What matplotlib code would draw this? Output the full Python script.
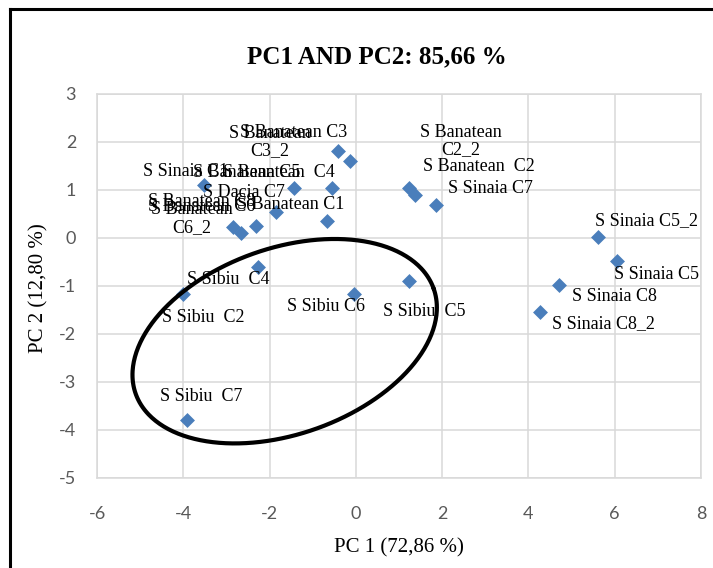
import numpy as np
import matplotlib
matplotlib.use("Agg")
import matplotlib.pyplot as plt
from matplotlib.lines import Line2D

plt.rcParams["axes.unicode_minus"] = False

# PCA scores (PC1, PC2) for each sample
samples = [
    "S Banatean C3", "S Banatean\nC3_2", "S Sinaia C1", "S Banatean C5",
    "S Banatean  C4", "S Dacia C7", "S Banatean C1", "S Banatean C8",
    "S Banatean C6", "S Banatean\nC6_2", "S Banatean\nC2_2", "S Banatean  C2",
    "S Sinaia C7", "S Sinaia C5_2", "S Sinaia C5", "S Sinaia C8",
    "S Sinaia C8_2", "S Sibiu  C4", "S Sibiu  C2", "S Sibiu C6",
    "S Sibiu  C5", "S Sibiu  C7",
]
pc1 = [-0.42, -0.14, -3.52, -1.44, -0.56, -1.85, -0.67, -2.32, -2.85, -2.67,
       1.23, 1.37, 1.85, 5.61, 6.05, 4.71, 4.27, -2.27, -4.01, -0.05, 1.23, -3.92]
pc2 = [1.81, 1.60, 1.10, 1.04, 1.04, 0.54, 0.35, 0.25, 0.23, 0.10,
       1.04, 0.90, 0.69, 0.02, -0.48, -0.98, -1.54, -0.60, -1.17, -1.17, -0.90, -3.79]

x_ticks = [-6, -4, -2, 0, 2, 4, 6, 8]
y_ticks = [3, 2, 1, 0, -1, -2, -3, -4, -5]

title = "PC1 AND PC2: 85,66 %"
x_title = "PC 1 (72,86 %)"
y_title = "PC 2 (12,80 %)"

# label placement: offset in pixels from the marker (dx right, dy up)
label_offsets = [
    (-98, 19), (-80, 19), (-61, 14), (-101, 16), (-109, 16), (-73, 20),
    (-90, 17), (-108, 24), (-85, 20), (-49, 14.5), (52, 47), (8, 28),
    (12, 16), (-3, 16), (-3, -13), (13, -11), (12, -12), (-71, -13),
    (-21, -23), (-67, -12), (-26, -30), (-27, 23),
]

W, H, DPI = 713, 568, 100
fig = plt.figure(figsize=(W / DPI, H / DPI), dpi=DPI)
fig.patch.set_facecolor("white")

ax_l, ax_r, ax_t, ax_b = 97, 701, 94, 478
ax = fig.add_axes([ax_l / W, 1 - ax_b / H, (ax_r - ax_l) / W, (ax_b - ax_t) / H])

grid_c = "#d9d9d9"
ax.set_xlim(-6, 8)
ax.set_ylim(-5, 3)
ax.set_xticks(x_ticks)
ax.set_yticks(y_ticks)
ax.grid(True, color=grid_c, linewidth=1.1)
ax.set_axisbelow(True)
for s in ax.spines.values():
    s.set_color(grid_c)
    s.set_linewidth(1.1)
ax.tick_params(length=0, colors="#595959", labelsize=13)
ax.tick_params(axis="x", pad=20)
ax.tick_params(axis="y", pad=15)
for lab in ax.get_xticklabels() + ax.get_yticklabels():
    lab.set_family("Lato")

ax.scatter(pc1, pc2, marker="D", s=7.6 ** 2, color="#4a7ebb", zorder=3,
           linewidths=0)

for name, x, y, (dx, dy) in zip(samples, pc1, pc2, label_offsets):
    two_line = "\n" in name
    ax.annotate(name, (x, y), xytext=(dx, dy), textcoords="offset pixels",
                ha="center" if two_line else "left", va="center",
                multialignment="center", linespacing=1.05,
                family="Liberation Serif", fontsize=13, color="black",
                zorder=4)

# highlight ring around the Sibiu group
cx, cy = -1.65, -2.15
a_px, b_px, ang = 158, 93, np.deg2rad(19.4)
px_x = (ax_r - ax_l) / 14.0
px_y = (ax_b - ax_t) / 8.0
t = np.linspace(0, 2 * np.pi, 400)
ex = a_px * np.cos(t) * np.cos(ang) - b_px * np.sin(t) * np.sin(ang)
ey = a_px * np.cos(t) * np.sin(ang) + b_px * np.sin(t) * np.cos(ang)
ax.plot(cx + ex / px_x, cy + ey / px_y, color="black", linewidth=3,
        zorder=5, solid_capstyle="round")

fig.text(376.5 / W, 1 - 57 / H, title, ha="center", va="center",
         family="Liberation Serif", fontweight="bold", fontsize=18)
fig.text((ax_l + ax_r) / 2 / W, 1 - 548 / H, x_title, ha="center",
         va="center", family="Liberation Serif", fontsize=15)
fig.text(39 / W, 1 - 288 / H, y_title, ha="center", va="center",
         rotation=90, family="Liberation Serif", fontsize=15)

# outer chart frame
fig.add_artist(Line2D([10 / W, 10 / W], [0, 1 - 9 / H], color="black",
                      linewidth=2.2, transform=fig.transFigure))
fig.add_artist(Line2D([10 / W, 1], [1 - 9 / H, 1 - 9 / H], color="black",
                      linewidth=2.2, transform=fig.transFigure))

fig.savefig("out.png", dpi=DPI)
